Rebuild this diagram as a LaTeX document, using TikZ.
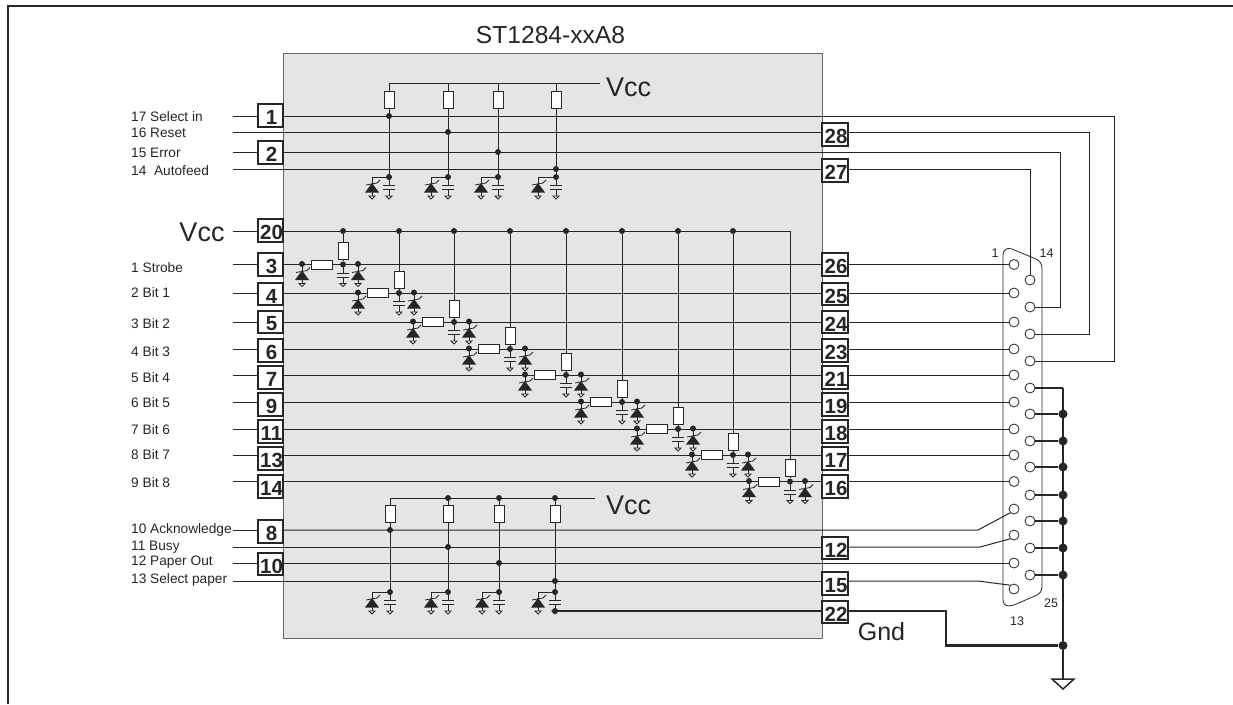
\documentclass[tikz,border=0pt]{standalone}
\usepackage{fontspec}
\setmainfont{Liberation Sans}
\definecolor{ink}{HTML}{262626}
\definecolor{chipgray}{HTML}{E4E5E6}
\newcommand{\fsz}[1]{\fontsize{#1}{#1}\selectfont}
\tikzset{
  wire/.style={draw=ink,line width=1pt},
  gwire/.style={draw=ink,line width=2.4pt},
  jdot/.style={circle,fill=ink,inner sep=0pt,minimum size=6pt},
  bigdot/.style={circle,fill=ink,inner sep=0pt,minimum size=9pt},
  pinbox/.style={draw=ink,line width=1.8pt,fill=white,inner sep=0pt,minimum width=25.5pt,minimum height=22.5pt,
    label={[pinnum]center:#1}},
  pinnum/.style={font=\fsz{20.5}\bfseries,text=ink,inner sep=0pt,xshift=1pt,yshift=-2pt},
  vres/.style={draw=ink,line width=0.8pt,fill=white,inner sep=0pt,minimum width=10pt,minimum height=17pt},
  hres/.style={draw=ink,line width=0.8pt,fill=white,inner sep=0pt,minimum width=21pt,minimum height=9pt},
  hole/.style={circle,draw=ink,line width=0.8pt,fill=white,inner sep=0pt,minimum size=10pt},
  sig/.style={font=\fsz{13.7},text=ink,anchor=west,inner sep=0pt},
  big/.style={font=\fsz{27},text=ink,inner sep=0pt},
  conn/.style={font=\fsz{12.5},text=ink,inner sep=0pt},
}
% zener diode hanging below (x,y)
\newcommand{\zenershape}[2]{%
  \begin{scope}[shift={(#1,#2)}]
    \draw[wire] (0,0) -- (0,19);
    \fill[ink] (-7,15.5) -- (7,15.5) -- (0,6) -- cycle;
    \draw[ink,line width=0.8pt] (-6,8) -- (5,6) -- (8,3);
    \draw[ink,line width=0.8pt,fill=white] (-3,19) -- (3,19) -- (0,22) -- cycle;
  \end{scope}}
% capacitor hanging below (x,y)
\newcommand{\capshape}[2]{%
  \begin{scope}[shift={(#1,#2)}]
    \draw[wire] (0,0) -- (0,8.5) (0,12.5) -- (0,19);
    \draw[ink,line width=1pt] (-6,8.5) -- (6,8.5) (-6,12.5) -- (6,12.5);
    \draw[ink,line width=0.8pt,fill=white] (-3,19) -- (3,19) -- (0,22) -- cycle;
  \end{scope}}
\begin{document}
\begin{tikzpicture}[x=1pt,y=-1pt]
\useasboundingbox (0,0) rectangle (1233,704);
% frame
\draw[ink,line width=1.2pt] (8,704) -- (8,6) -- (1233,6);
% chip body
\node[draw=black!60,line width=1pt,fill=chipgray,inner sep=0pt,minimum width=539pt,minimum height=585pt,anchor=north west] (chip) at (283,53) {};
\node[font=\fsz{24.6},text=ink,inner sep=0pt] (title) at (550.5,35) {ST1284-xxA8};

% connector outline
\draw[ink,line width=0.8pt] (1003,600) -- (1003,255) .. controls (1003,250) and (1007,247) .. (1012,249)
  -- (1036,259) .. controls (1040,261) and (1042,264) .. (1042,268) -- (1042,585)
  .. controls (1042,590) and (1041,593) .. (1037,595) -- (1014,605) .. controls (1008,607) and (1003,606) .. (1003,600);
\node[conn] (c1) at (995,253) {1};
\node[conn] (c14) at (1046.5,253) {14};
\node[conn] (c25) at (1051,603) {25};
\node[conn] (c13) at (1017,621) {13};

% connector holes
\foreach \n/\y in {1/264.5,2/293,3/322,4/349,5/375,6/402,7/429,8/455,9/481.5,10/509,11/535,12/563,13/589}
  {\node[hole] (hL\n) at (1014,\y) {};}
\foreach \n/\y in {14/280,15/307,16/334,17/361,18/388,19/414,20/441,21/467,22/495,23/521,24/548,25/575}
  {\node[hole] (hR\n) at (1030,\y) {};}

% ---- pins
\foreach \n/\y in {1/115.5,2/152.5,20/230.5,8/531.5,10/564}
  {\node[pinbox=\n] (L\n) at (270.5,\y) {};}
\foreach \n/\y in {28/134.5,27/170.5,12/548,15/583.5,22/612}
  {\node[pinbox=\n] (R\n) at (835,\y) {};}

% ---- bit rows: left pin, row, right pin, label, label y, hole, stage
\foreach \l/\ly/\r/\rn/\t/\ty/\h in {
  3/264.5/264.5/26/1 Strobe/268/1,
  4/294/293/25/2 Bit 1/293/2,
  5/322/322/24/3 Bit 2/324/3,
  6/350.5/349/23/4 Bit 3/352/4,
  7/377.5/375/21/5 Bit 4/378/5,
  9/404.5/402/19/6 Bit 5/403/6,
  11/431.5/429/18/7 Bit 6/430/7,
  13/458.5/455/17/8 Bit 7/455/8,
  14/486.5/481.5/16/9 Bit 8/483/9}{
  \node[pinbox=\l] (L\l) at (270.5,\ly) {};
  \node[pinbox=\rn] (R\rn) at (835,\ly) {};
  \node[sig] (lab\l) at (131,\ty) {\t};
  \coordinate (st\l) at (233,\r);
  \coordinate (row\l) at (0,\r);
  \draw[wire] (st\l) -- (L\l.west |- st\l);
  \draw[wire] (L\l.east |- st\l) -- (R\rn.west |- st\l);
  \draw[wire] (R\rn.east |- st\l) -- (hL\h.west);
}

% ---- signal labels of the other rows
\node[sig] (t17) at (131,117) {17 Select in};
\node[sig] (t16) at (131,133) {16 Reset};
\node[sig] (t15) at (131,153) {15 Error};
\node[sig] (t14) at (131,171) {14\ \ Autofeed};
\node[sig] (t10) at (131,530) {10 Acknowledge};
\node[sig] (t11) at (131,547) {11 Busy};
\node[sig] (t12) at (131,562) {12 Paper Out};
\node[sig] (t13) at (131,580) {13 Select paper};

% ---- free ends and corners
\coordinate (a1) at (233,116);
\coordinate (a2) at (233,132);
\coordinate (a3) at (233,152);
\coordinate (a4) at (233,169);
\coordinate (a5) at (233,231);
\coordinate (b1) at (233,530);
\coordinate (b2) at (233,547);
\coordinate (b3) at (233,563);
\coordinate (b4) at (233,581);
\coordinate (k1) at (1114,116);
\coordinate (k2) at (1089,132);
\coordinate (k3) at (1060,152);
\coordinate (k4) at (1030,169);
\coordinate (k5) at (978,530);
\coordinate (k6) at (980,547);
\coordinate (k7) at (978,581);

% upper rows
\draw[wire] (a1) -- (L1.west |- a1);
\draw[wire] (L1.east |- a1) -- (k1) |- (hR17.east);
\draw[wire] (a2) -- (R28.west |- a2);
\draw[wire] (R28.east |- a2) -- (k2) |- (hR16.east);
\draw[wire] (a3) -- (L2.west |- a3);
\draw[wire] (L2.east |- a3) -- (k3) |- (hR15.east);
\draw[wire] (a4) -- (R27.west |- a4);
\draw[wire] (R27.east |- a4) -- (k4) -- (hR14.north);
\draw[wire] (a5) -- (L20.west |- a5);
% lower rows
\draw[wire] (b1) -- (L8.west |- b1);
\draw[wire] (L8.east |- b1) -- (k5) -- (hL10.south west);
\draw[wire] (b2) -- (R12.west |- b2);
\draw[wire] (R12.east |- b2) -- (k6) -- (hL11.south west);
\draw[wire] (b3) -- (L10.west |- b3);
\draw[wire] (L10.east |- b3) -- (hL12.west);
\draw[wire] (b4) -- (R15.west |- b4);
\draw[wire] (R15.east |- b4) -- (k7) -- (hL13.north west);

% ---- supply bus of the bit stages
\coordinate (vend) at (790,231);
\draw[wire] (L20.east |- vend) -- (vend);
\foreach \c/\r/\i in {343/264.5/1,399/293/2,454/322/3,510/349/4,566/375/5,622/402/6,678/429/7,733/455/8,790/481.5/9}{
  \ifnum\i<9 \node[jdot] (vb\i) at (\c,231) {}; \else \coordinate (vb\i) at (vend); \fi
  \node[jdot] (j\i) at (\c,\r) {};
  \node[jdot] (dl\i) at (\c-41,\r-0.5) {};
  \node[jdot] (dr\i) at (\c+15,\r-0.5) {};
  \draw[wire] (vb\i) -- (j\i);
  \zenershape{\c-41}{\r}
  \zenershape{\c+15}{\r}
  \capshape{\c}{\r}
  \node[vres] (rv\i) at (\c,\r-13.5) {};
  \node[hres] (rh\i) at (\c-21,\r) {};
}

% ---- top pull-up group
\node[big,anchor=west] (vcc1) at (606,87) {Vcc};
\coordinate (tb1) at (389,83);
\coordinate (tb2) at (448,83);
\coordinate (tb3) at (498,83);
\coordinate (tb4) at (556,83);
\coordinate (tbe) at (600,83);
\draw[wire] (tb1) -- (tbe);
\foreach \c/\z/\r/\i in {389/372/116/1,448/431/132/2,498/481/152/3,556/538/169/4}{
  \node[jdot] (tj\i) at (\c,\r) {};
  \node[jdot] (te\i) at (\c,177) {};
  \coordinate (tz\i) at (\z,177);
  \draw[wire] (tb\i) -- (te\i) -- (tz\i);
  \zenershape{\z}{177}
  \capshape{\c}{177}
  \node[vres] (tr\i) at (\c,100) {};
}

% ---- bottom pull-up group
\node[big,anchor=west] (vcc3) at (606,505) {Vcc};
\node[jdot] (bb2) at (448,498) {};
\node[jdot] (bb3) at (499,498) {};
\node[jdot] (bb4) at (555,498) {};
\coordinate (bb1) at (390,498);
\coordinate (bbe) at (595,498);
\draw[wire] (bb1) -- (bbe);
\foreach \c/\z/\r/\i in {390/372/530/1,448/431/547/2,499/482/563/3,555/538/581/4}{
  \node[jdot] (bj\i) at (\c,\r) {};
  \node[jdot] (be\i) at (\c,592) {};
  \coordinate (bz\i) at (\z,592);
  \draw[wire] (bb\i) -- (be\i) -- (bz\i);
  \zenershape{\z}{592}
  \capshape{\c}{592}
  \node[vres] (br\i) at (\c,514) {};
}

% ---- middle Vcc label
\node[big] (vcc2) at (202,232) {Vcc};

% ---- ground net
\node[jdot] (gj) at (555,611) {};
\coordinate (g1) at (946,611);
\coordinate (g2) at (946,645.5);
\node[bigdot] (g3) at (1063,645.5) {};
\draw[gwire] (gj) -- (R22.west |- gj);
\draw[gwire] (R22.east |- gj) -- (g1) -- (g2) -- (g3);
\coordinate (bus0) at (1063,388);
\coordinate (gtop) at (1063,679);
\draw[wire,line width=1.3pt] (hR18.east) -- (bus0);
\draw[gwire] (bus0) -- (g3) -- (gtop);
\foreach \n/\y in {19/414,20/441,21/467,22/495,23/521,24/548,25/575}{
  \node[bigdot] (bd\n) at (1063,\y) {};
  \draw[wire,line width=1.6pt] (hR\n.east) -- (bd\n);
}
\draw[ink,line width=1.5pt,line join=miter] (1052,679) -- (1074,679) -- (1063,689) -- cycle;
\node[font=\fsz{25},text=ink,inner sep=0pt] (gnd) at (881.5,632) {Gnd};
\end{tikzpicture}
\end{document}
